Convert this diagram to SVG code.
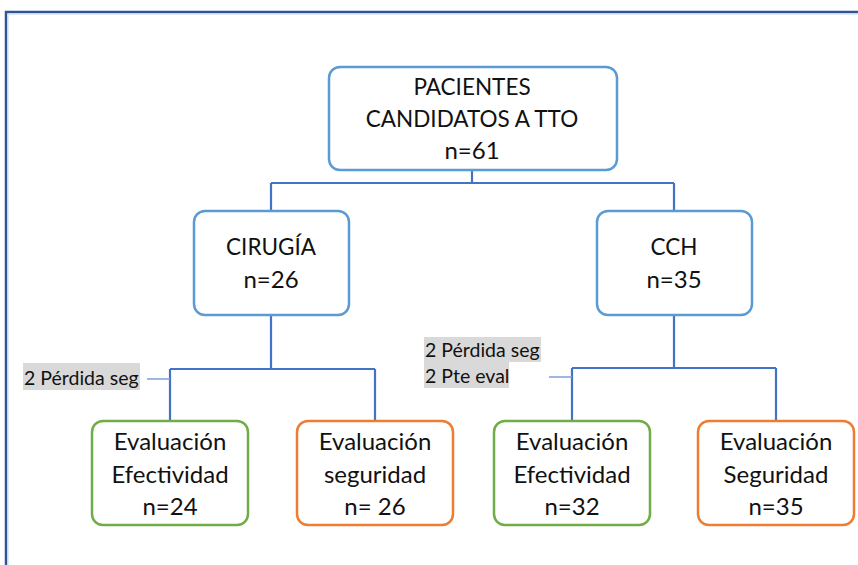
<svg xmlns="http://www.w3.org/2000/svg" width="858" height="565" viewBox="0 0 858 565">
<style>
.box{fill:#fff;stroke-width:2.5}
.blue{stroke:#5B9BD5}
.green{stroke:#70AD47}
.orange{stroke:#ED7D31}
.t{font-family:Lato,"Liberation Sans",Arial,sans-serif;font-size:24px;fill:#111;text-anchor:middle}
.caps{font-size:22.5px}
.lbl{font-family:Lato,"Liberation Sans",Arial,sans-serif;font-size:19.5px;fill:#111}
.conn{fill:none;stroke:#4472C4;stroke-width:2.2}
.lead{fill:none;stroke:#7B9FDA;stroke-width:1.5}
.hl{fill:#D9D9D9}
</style>
<rect width="858" height="565" fill="#fff"/>
<g id="frame">
<rect x="6" y="12" width="900" height="600" fill="none" stroke="#2F5597" stroke-width="2.5"/>
<rect x="8" y="14" width="900" height="600" fill="none" stroke="#C9D6EC" stroke-width="1"/>
</g>
<g id="connectors">
<path class="conn" d="M472 170V183M271 183H674M271 183V211M674 183V211"/>
<path class="conn" d="M271 315V369M170 369H375M170 369V421M375 369V421"/>
<path class="conn" d="M674 315V368M572 368H776M572 368V421M776 368V421"/>
<path class="lead" d="M147 379H170"/>
<path class="lead" d="M549 377H572"/>
</g>
<g id="n-pacientes">
<rect class="box blue" x="329" y="67" width="288" height="103" rx="11"/>
<text class="t caps" x="472" y="95">PACIENTES</text>
<text class="t caps" x="472" y="127">CANDIDATOS A TTO</text>
<text class="t" x="472" y="159">n=61</text>
</g>
<g id="n-cirugia">
<rect class="box blue" x="194" y="211" width="155" height="104" rx="11"/>
<text class="t caps" x="271" y="255">CIRUGÍA</text>
<text class="t" x="271" y="288">n=26</text>
</g>
<g id="n-cch">
<rect class="box blue" x="597" y="211" width="155" height="104" rx="11"/>
<text class="t caps" x="674" y="255">CCH</text>
<text class="t" x="674" y="288">n=35</text>
</g>
<g id="n-ef1">
<rect class="box green" x="92" y="421" width="156" height="104" rx="11"/>
<text class="t" x="170" y="450">Evaluación</text>
<text class="t" x="170" y="483">Efectividad</text>
<text class="t" x="170" y="515">n=24</text>
</g>
<g id="n-seg1">
<rect class="box orange" x="297" y="421" width="156" height="104" rx="11"/>
<text class="t" x="375" y="450">Evaluación</text>
<text class="t" x="375" y="483">seguridad</text>
<text class="t" x="375" y="515">n= 26</text>
</g>
<g id="n-ef2">
<rect class="box green" x="494" y="421" width="156" height="104" rx="11"/>
<text class="t" x="572" y="450">Evaluación</text>
<text class="t" x="572" y="483">Efectividad</text>
<text class="t" x="572" y="515">n=32</text>
</g>
<g id="n-seg2">
<rect class="box orange" x="698" y="421" width="156" height="104" rx="11"/>
<text class="t" x="776" y="450">Evaluación</text>
<text class="t" x="776" y="483">Seguridad</text>
<text class="t" x="776" y="515">n=35</text>
</g>
<g id="lbl-cirugia">
<rect class="hl" x="23" y="363" width="117" height="27"/>
<text class="lbl" x="24" y="385">2 Pérdida seg</text>
</g>
<g id="lbl-cch">
<rect class="hl" x="424" y="337" width="117" height="25"/>
<rect class="hl" x="424" y="361" width="85" height="27"/>
<text class="lbl" x="425" y="357">2 Pérdida seg</text>
<text class="lbl" x="425" y="383">2 Pte eval</text>
</g>
</svg>
